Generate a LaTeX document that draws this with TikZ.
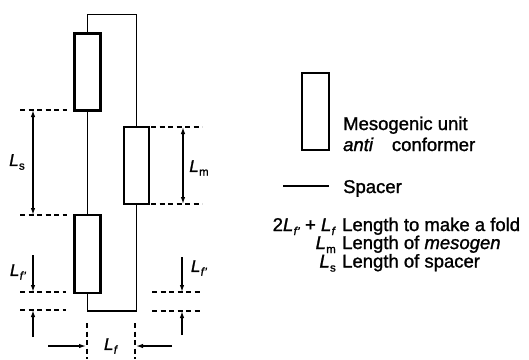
\documentclass[tikz,border=0pt]{standalone}
\usepackage{fontspec}
\setmainfont{Liberation Sans}[UprightFeatures={FakeBold=1.3},ItalicFeatures={FakeBold=1.3}]
\usetikzlibrary{arrows.meta}
\newcommand\Lab[1]{\textit{L}\kern0.3pt\raisebox{-0.22em}{\fontsize{11.5}{11.5}\selectfont #1}}
\begin{document}
\begin{tikzpicture}[x=1pt,y=-1pt,
  meso/.style={draw,line width=2.2pt,minimum width=26pt,minimum height=77pt,inner sep=0pt},
  spacer/.style={line width=1.8pt},
  guide/.style={line width=1.6pt,dash pattern=on 5pt off 3.5pt},
  dim/.style={line width=1.3pt,-{Latex[length=7pt,width=4.5pt]}},
  ddim/.style={line width=1.3pt,{Latex[length=7pt,width=4.5pt]}-{Latex[length=7pt,width=4.5pt]}},
  txt/.style={inner sep=0pt,font=\fontsize{18.5}{20}\selectfont},
  lab/.style={inner sep=0pt,font=\fontsize{17}{18}\selectfont}]
\useasboundingbox (0,0) rectangle (529,359);
% mesogens
\node[meso] (m1) at (87.5,72) {};
\node[meso,minimum width=25pt] (m2) at (136.5,165.5) {};
\node[meso,minimum height=78pt] (m3) at (87.5,254) {};
% spacers
\draw[spacer] (m1.north) -- ++(0,-18) -| (m2.north);
\draw[spacer] (m1.south) -- (m3.north);
\draw[spacer] (m3.south) -- ++(0,17) -| (m2.south);
% left guides
\coordinate (gA1) at (20,110); \coordinate (gA2) at (67,110);
\coordinate (gB1) at (20,215); \coordinate (gB2) at (67,215);
\coordinate (gC1) at (20,292); \coordinate (gC2) at (66,292);
\coordinate (gD1) at (20,310); \coordinate (gD2) at (66,310);
\draw[guide] (gA1) -- (gA2);
\draw[guide] (gB1) -- (gB2);
\draw[guide] (gC1) -- (gC2);
\draw[guide] (gD1) -- (gD2);
\coordinate (ls1) at (33,110); \coordinate (ls2) at (33,215);
\draw[ddim] (ls1) -- (ls2);
\coordinate (lf1s) at (33,255); \coordinate (lf1e) at (33,292);
\coordinate (lf2s) at (33,337); \coordinate (lf2e) at (33,310);
\draw[dim] (lf1s) -- (lf1e);
\draw[dim] (lf2s) -- (lf2e);
\node[lab] (tLs) at (17,162) {\Lab{s}};
\node[lab] (tLf1) at (18,272) {\Lab{\textit{f'}}};
% right guides
\coordinate (gE1) at (151,127); \coordinate (gE2) at (202,127);
\coordinate (gF1) at (151,204); \coordinate (gF2) at (202,204);
\coordinate (gG1) at (152,292); \coordinate (gG2) at (201,292);
\coordinate (gH1) at (152,311); \coordinate (gH2) at (201,311);
\draw[guide] (gE1) -- (gE2);
\draw[guide] (gF1) -- (gF2);
\draw[guide] (gG1) -- (gG2);
\draw[guide] (gH1) -- (gH2);
\coordinate (lm1) at (183,127); \coordinate (lm2) at (183,204);
\draw[ddim] (lm1) -- (lm2);
\coordinate (rf1s) at (182,257); \coordinate (rf1e) at (182,292);
\coordinate (rf2s) at (182,335); \coordinate (rf2e) at (182,311);
\draw[dim] (rf1s) -- (rf1e);
\draw[dim] (rf2s) -- (rf2e);
\node[lab] (tLm) at (199,168) {\Lab{m}};
\node[lab] (tLf2) at (199,268) {\Lab{\textit{f'}}};
% bottom guides
\coordinate (gV1) at (87,323); \coordinate (gV2) at (87,359);
\coordinate (gW1) at (135,323); \coordinate (gW2) at (135,359);
\draw[guide] (gV1) -- (gV2);
\draw[guide] (gW1) -- (gW2);
\coordinate (bf1s) at (48,346); \coordinate (bf1e) at (86,346);
\coordinate (bf2s) at (172,346); \coordinate (bf2e) at (136,346);
\draw[dim] (bf1s) -- (bf1e);
\draw[dim] (bf2s) -- (bf2e);
\node[lab] (tLf) at (111,346) {\Lab{\textit{f}}};
% legend
\node[meso,minimum width=27pt] (lm) at (315.5,111.5) {};
\coordinate (sp1) at (283,186); \coordinate (sp2) at (329,186);
\draw[spacer] (sp1) -- (sp2);
\node[txt,anchor=base west] (t1) at (343,130) {Mesogenic unit};
\node[txt,anchor=base west] (t2) at (343,151) {\textit{anti}\quad conformer};
\node[txt,anchor=base west] (t3) at (343,193) {Spacer};
\node[txt,anchor=base east] (k1) at (336,231) {2\Lab{\textit{f'}} + \Lab{\textit{f}}};
\node[txt,anchor=base west] (d1) at (342,231) {Length to make a fold};
\node[txt,anchor=base east] (k2) at (336,249) {\Lab{m}};
\node[txt,anchor=base west] (d2) at (342,249) {Length of \textit{mesogen}};
\node[txt,anchor=base east] (k3) at (336,267.5) {\Lab{s}};
\node[txt,anchor=base west] (d3) at (342,267.5) {Length of spacer};
\end{tikzpicture}
\end{document}
